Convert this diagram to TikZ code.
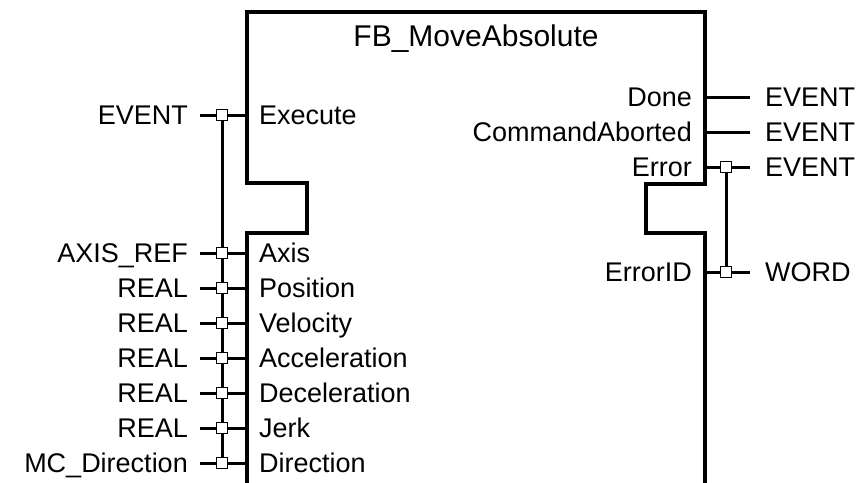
\documentclass[tikz,border=0pt]{standalone}
\usepackage{fontspec}
\setmainfont{Liberation Sans}
\usepackage{tikz}
\usetikzlibrary{positioning}
\tikzset{
pinfont/.style={
  font=\fontsize{27}{31}\selectfont,
  inner sep=0pt,
  text height=19.3pt,
  text depth=0pt
  },
frame/.style={
  draw=black,
  line width=4pt,
  line join=miter
  },
wire/.style={
  draw=black,
  line width=3pt
  },
port/.style={
  draw=black,
  fill=white,
  line width=1.2pt,
  minimum size=11.5pt,
  inner sep=0pt
  }
}
\begin{document}
\begin{tikzpicture}[x=1pt,y=-1pt]
            \useasboundingbox[fill=white] (0,0) rectangle (862,482);
            % block outline with the two notches
            \draw[frame] (247,495) -- (247,233) -- (307,233) -- (307,183) -- (247,183)
                -- (247,12) -- (705,12) -- (705,184) -- (646,184) -- (646,233)
                -- (705,233) -- (705,495);
            \node[pinfont,font=\fontsize{30}{34}\selectfont,text height=21.5pt] (title) at (476,36) {FB\_MoveAbsolute};
            % inputs
            \foreach \y/\typ/\pin [count=\i] in {115/EVENT/Execute,253/AXIS\_REF/Axis,
                288/REAL/Position,323/REAL/Velocity,358/REAL/Acceleration,
                393/REAL/Deceleration,428/REAL/Jerk,463/MC\_Direction/Direction}
            {
                \coordinate (in-pin-\i) at (247,\y);
                \coordinate (in-tap-\i) at (222,\y);
                \coordinate (in-end-\i) at (200,\y);
                \node[pinfont,anchor=east] (in-typ-\i) at (188,\y) {\typ};
                \node[pinfont,anchor=west] (in-lab-\i) at (259,\y) {\pin};
                \draw[wire] (in-end-\i) -- (in-pin-\i);
            }
            \draw[wire] (in-tap-1) -- (in-tap-8);
            \foreach \i in {1,...,8}
                \node[port] (in-sq-\i) at (in-tap-\i) {};
            % outputs
            \foreach \y/\typ/\pin [count=\i] in {97/EVENT/Done,132/EVENT/CommandAborted,
                167/EVENT/Error,272/WORD/ErrorID}
            {
                \coordinate (out-pin-\i) at (705,\y);
                \coordinate (out-tap-\i) at (726,\y);
                \coordinate (out-end-\i) at (750,\y);
                \node[pinfont,anchor=west] (out-typ-\i) at (765,\y) {\typ};
                \node[pinfont,anchor=east] (out-lab-\i) at (692,\y) {\pin};
                \draw[wire] (out-pin-\i) -- (out-end-\i);
            }
            \draw[wire] (out-tap-3) -- (out-tap-4);
            \node[port] (out-sq-3) at (out-tap-3) {};
            \node[port] (out-sq-4) at (out-tap-4) {};
        \end{tikzpicture}
\end{document}
